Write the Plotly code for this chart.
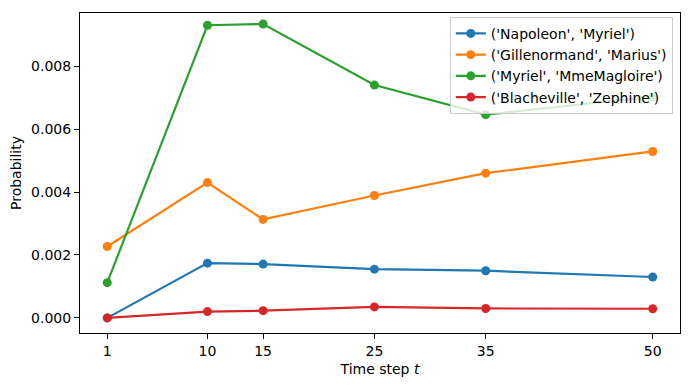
import plotly.graph_objects as go

# time steps
pasos = [1, 10, 15, 25, 35, 50]

# probabilidades por pareja
nombres = ["('Napoleon', 'Myriel')", "('Gillenormand', 'Marius')",
           "('Myriel', 'MmeMagloire')", "('Blacheville', 'Zephine')"]
napoleon_myriel = [0.0, 0.00174, 0.00171, 0.00155, 0.00150, 0.00130]
gillenormand_marius = [0.00227, 0.00430, 0.00313, 0.00389, 0.00460, 0.00529]
myriel_magloire = [0.00112, 0.00930, 0.00934, 0.00740, 0.00646, 0.00703]
blacheville_zephine = [0.0, 0.00020, 0.00023, 0.00035, 0.00030, 0.00029]

colores = ["#1f77b4", "#ff7f0e", "#2ca02c", "#d62728"]
series = [napoleon_myriel, gillenormand_marius, myriel_magloire, blacheville_zephine]

fig = go.Figure()

for nombre, valores, color in zip(nombres, series, colores):
    fig.add_trace(go.Scatter(
        x=pasos,
        y=valores,
        mode="lines+markers",
        line=dict(color=color, width=2.2),
        marker=dict(size=9, color=color),
        name=nombre))

eje = dict(
    showline=True, linecolor="black", linewidth=1, mirror=True,
    ticks="outside", ticklen=5, tickcolor="black", tickwidth=1,
    showgrid=False, zeroline=False,
    tickfont=dict(size=14, color="black"),
)

# la pagina tiene 8px de margen en el body, se compensa aqui
fig.update_layout(
    width=682, height=382,
    margin=dict(l=72, r=10, t=5, b=57),
    plot_bgcolor="white", paper_bgcolor="white",
    font=dict(family="DejaVu Sans", size=14, color="black"),
    xaxis=dict(eje, range=[-1.45, 52.45], tickvals=pasos,
               title=dict(text="Time step <i>t</i>", font=dict(size=14), standoff=6)),
    yaxis=dict(eje, range=[-0.00048, 0.00969],
               tickvals=[0, 0.002, 0.004, 0.006, 0.008], tickformat=".3f",
               title=dict(text="Probability", font=dict(size=14), standoff=6)),
    legend=dict(x=0.988, y=0.988, xanchor="right", yanchor="top",
                bgcolor="rgba(255,255,255,0.8)", bordercolor="#cccccc", borderwidth=1,
                font=dict(size=14), tracegroupgap=0),
    showlegend=True,
)

fig.write_html("out.html")
